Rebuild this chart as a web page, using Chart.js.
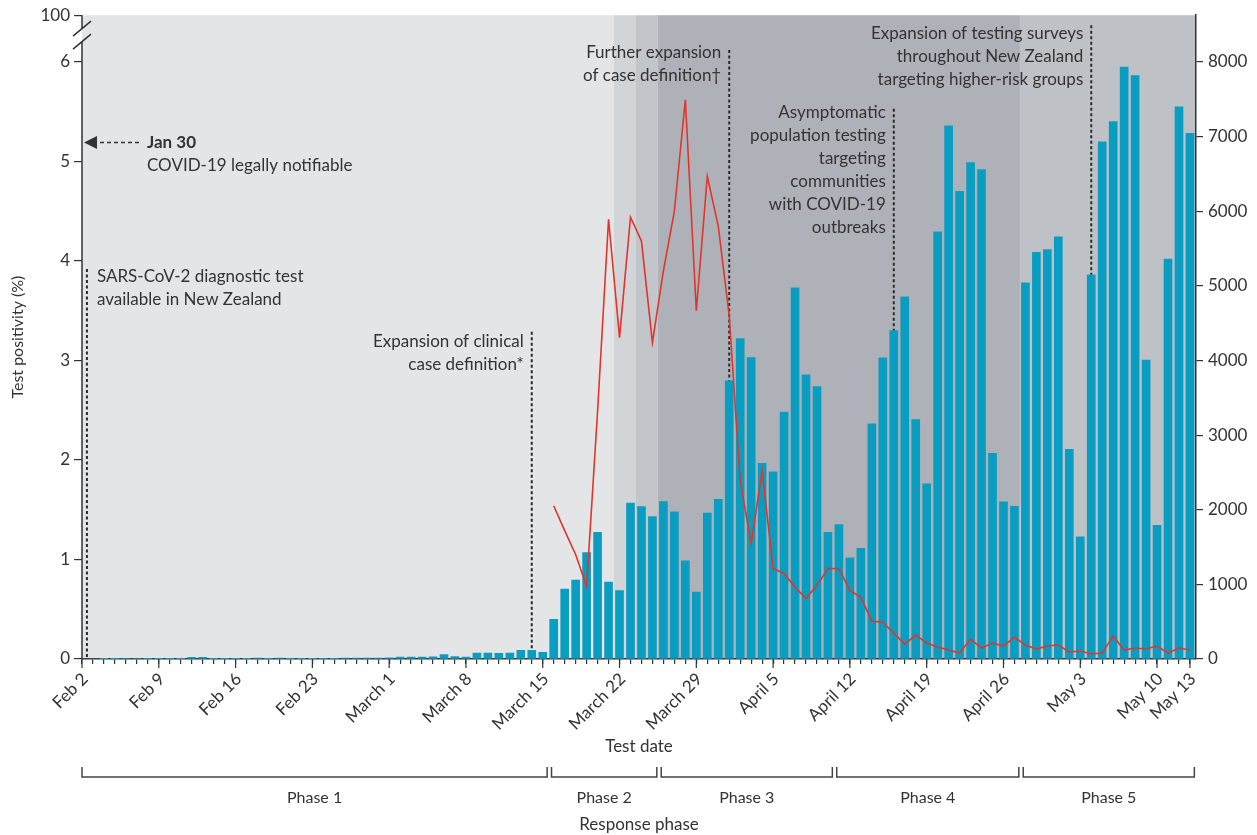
<!DOCTYPE html>
<html>
<head>
<meta charset="utf-8">
<title>SARS-CoV-2 testing in New Zealand</title>
<script src="https://cdn.jsdelivr.net/npm/chart.js@4.4.1/dist/chart.umd.min.js"></script>
<style>
  body { margin: 0; background: #fff; }
</style>
</head>
<body>
<canvas id="testing" width="1257" height="835"></canvas>
<script>
// tests per day (right axis), Feb 2 to May 13 2020
const testCounts = [
  0, 0, 3, 3, 10, 10, 3, 2, 3, 5,
  22, 22, 4, 3, 2, 3, 12, 3, 12, 3,
  2, 2, 3, 4, 12, 13, 13, 14, 15, 27,
  27, 27, 30, 60, 33, 25, 80, 80, 76, 80,
  116, 116, 90,
  533, 937, 1057, 1427, 1697, 1031, 916, 2089, 2044, 1907,
  2111, 1973, 1316, 898, 1956, 2138, 3729, 4293, 4040, 2622,
  2507, 3307, 4973, 3809, 3649, 1697, 1800, 1356, 1484, 3151,
  4036, 4401, 4853, 3209, 2347, 5725, 7144, 6267, 6653, 6557,
  2757, 2107, 2045, 5040, 5449, 5486, 5657, 2808, 1637, 5149,
  6931, 7200, 7930, 7816, 4007, 1792, 5360, 7400, 7045
];

// test positivity (%), left axis, starting March 16
const positivityFirst = 'March 16';
const positivity = [
  1.54, 1.29, 1.05, 0.73, 2.49, 4.42, 3.23, 4.44, 4.20, 3.18,
  3.90, 4.50, 5.62, 3.50, 4.85, 4.35, 3.45, 1.79, 1.16, 1.89,
  0.91, 0.86, 0.72, 0.61, 0.74, 0.91, 0.91, 0.69, 0.62, 0.38,
  0.37, 0.26, 0.15, 0.24, 0.16, 0.12, 0.09, 0.06, 0.20, 0.11,
  0.16, 0.13, 0.22, 0.14, 0.10, 0.13, 0.14, 0.07, 0.08, 0.05,
  0.06, 0.23, 0.09, 0.11, 0.10, 0.13, 0.06, 0.11, 0.09
];

const monthNames = ['Jan', 'Feb', 'March', 'April', 'May'];
const dayLabels = testCounts.map(function (_, i) {
  const d = new Date(2020, 1, 2 + i);
  return monthNames[d.getMonth()] + ' ' + d.getDate();
});
const dayAt = label => dayLabels.indexOf(label);

const dateTicks = ['Feb 2', 'Feb 9', 'Feb 16', 'Feb 23', 'March 1', 'March 8', 'March 15',
  'March 22', 'March 29', 'April 5', 'April 12', 'April 19', 'April 26', 'May 3', 'May 10', 'May 13'];
const positivityTicks = [0, 1, 2, 3, 4, 5, 6];
const countTicks = [0, 1000, 2000, 3000, 4000, 5000, 6000, 7000, 8000];
const breakLabel = '100';

const phaseNames = ['Phase 1', 'Phase 2', 'Phase 3', 'Phase 4', 'Phase 5'];
const phaseStarts = ['Feb 2', 'March 16', 'March 26', 'April 11', 'April 28'];

// alert level periods behind the bars
const alertStarts = ['Feb 2', 'March 22', 'March 24', 'March 26', 'April 28'];
const alertColours = ['#e4e5e7', '#d2d5d8', '#c2c6ca', '#aeb2b8', '#bec2c6'];

// the left axis jumps from 6 to 100 %
const positivityTop = 6.47;
const countTop = positivityTop / 6 * 8000;

const events = [
  { date: 'Feb 2', shift: 0.45, from: 3.92, text: 3.84, align: 'left',
    lines: ['SARS-CoV-2 diagnostic test', 'available in New Zealand'] },
  { date: 'March 14', from: 3.29, text: 3.19, align: 'right',
    lines: ['Expansion of clinical', 'case definition*'] },
  { date: 'April 1', from: 6.12, text: 6.09, align: 'right',
    lines: ['Further expansion', 'of case definition\u2020'] },
  { date: 'April 16', from: 5.53, text: 5.49, align: 'right',
    lines: ['Asymptomatic', 'population testing', 'targeting', 'communities', 'with COVID-19', 'outbreaks'] },
  { date: 'May 4', from: 6.37, text: 6.29, align: 'right',
    lines: ['Expansion of testing surveys', 'throughout New Zealand', 'targeting higher-risk groups'] }
];
const janNote = { at: 5.19, title: 'Jan 30', text: 'COVID-19 legally notifiable' };

const ink = '#333';
Chart.defaults.font.family = 'Lato';
Chart.defaults.color = ink;

const notes = {
  id: 'notes',
  beforeDraw(chart) {
    const { ctx, chartArea: a, scales: { x } } = chart;
    ctx.save();
    alertStarts.forEach(function (d, k) {
      const x0 = k === 0 ? a.left : x.getPixelForValue(dayAt(d) - 0.5);
      const x1 = k === alertStarts.length - 1 ? a.right : x.getPixelForValue(dayAt(alertStarts[k + 1]) - 0.5);
      ctx.fillStyle = alertColours[k];
      ctx.fillRect(x0, a.top, x1 - x0, a.bottom - a.top);
    });
    ctx.restore();
  },
  beforeDatasetsDraw(chart) {
    const { ctx, chartArea: a, scales: { x, y } } = chart;
    ctx.save();
    ctx.strokeStyle = '#2a2a2a';
    ctx.lineWidth = 2;
    ctx.setLineDash([3, 2.5]);
    events.forEach(function (ev) {
      const px = x.getPixelForValue(dayAt(ev.date) + (ev.shift || 0));
      ctx.beginPath();
      ctx.moveTo(px, y.getPixelForValue(ev.from));
      ctx.lineTo(px, a.bottom);
      ctx.stroke();
    });
    ctx.restore();
  },
  afterDraw(chart) {
    const { ctx, chartArea: a, scales: { x, y } } = chart;
    ctx.save();
    ctx.fillStyle = ink;
    ctx.strokeStyle = ink;

    // event captions
    ctx.font = '17px Lato';
    ctx.textBaseline = 'middle';
    events.forEach(function (ev) {
      const px = x.getPixelForValue(dayAt(ev.date) + (ev.shift || 0));
      ctx.textAlign = ev.align;
      const tx = ev.align === 'left' ? px + 10 : px - 8;
      ev.lines.forEach(function (line, k) {
        ctx.fillText(line, tx, y.getPixelForValue(ev.text) + k * 23);
      });
    });

    // Jan 30 arrow pointing off the left edge
    const jy = y.getPixelForValue(janNote.at);
    ctx.beginPath();
    ctx.moveTo(a.left + 2, jy);
    ctx.lineTo(a.left + 15, jy - 6.5);
    ctx.lineTo(a.left + 15, jy + 6.5);
    ctx.closePath();
    ctx.fill();
    ctx.lineWidth = 1.5;
    ctx.setLineDash([4, 3]);
    ctx.beginPath();
    ctx.moveTo(a.left + 18, jy);
    ctx.lineTo(a.left + 58, jy);
    ctx.stroke();
    ctx.setLineDash([]);
    ctx.textAlign = 'left';
    ctx.font = 'bold 17px Lato';
    ctx.fillText(janNote.title, a.left + 65, jy);
    ctx.font = '17px Lato';
    ctx.fillText(janNote.text, a.left + 65, jy + 23);

    // left axis with a break between 6 and 100
    const c = y.getPixelForValue(6.27);
    ctx.lineWidth = 1.5;
    ctx.beginPath();
    ctx.moveTo(a.left, a.top);
    ctx.lineTo(a.left, c - 6.5);
    ctx.moveTo(a.left, c + 6.5);
    ctx.lineTo(a.left, a.bottom);
    [-6.5, 6.5].forEach(function (off) {
      ctx.moveTo(a.left - 9, c + off + 7.5);
      ctx.lineTo(a.left + 9, c + off - 7.5);
    });
    ctx.stroke();

    // longer ticks under the labelled dates
    ctx.lineWidth = 1.2;
    ctx.beginPath();
    dateTicks.forEach(function (d) {
      const px = x.getPixelForValue(dayAt(d));
      ctx.moveTo(px, a.bottom);
      ctx.lineTo(px, a.bottom + 9);
    });
    ctx.stroke();

    // response phase brackets
    const by = x.bottom + 18;
    ctx.lineWidth = 1.5;
    ctx.strokeStyle = '#444';
    ctx.font = '16px Lato';
    ctx.textAlign = 'center';
    phaseStarts.forEach(function (d, k) {
      const start = dayAt(d);
      const end = k === phaseStarts.length - 1 ? dayLabels.length - 1 : dayAt(phaseStarts[k + 1]) - 1;
      const x0 = Math.max(a.left, x.getPixelForValue(start - 0.2));
      const x1 = x.getPixelForValue(end + 0.4);
      ctx.beginPath();
      ctx.moveTo(x0, by - 10);
      ctx.lineTo(x0, by);
      ctx.lineTo(x1, by);
      ctx.lineTo(x1, by - 10);
      ctx.stroke();
      ctx.fillText(phaseNames[k], (x0 + x1) / 2, by + 21);
    });
    ctx.font = '17px Lato';
    ctx.fillText('Response phase', (a.left + a.right) / 2, by + 48);
    ctx.restore();
  }
};

new Chart(document.getElementById('testing'), {
  type: 'bar',
  data: {
    datasets: [
      {
        type: 'line',
        label: 'Test positivity (%)',
        data: positivity.map((v, k) => ({ x: dayAt(positivityFirst) + k, y: v })),
        yAxisID: 'y',
        borderColor: '#e2342b',
        borderWidth: 1.6,
        pointRadius: 0,
        tension: 0,
        order: 0
      },
      {
        type: 'bar',
        label: 'Tests',
        data: testCounts.map((v, i) => ({ x: i, y: v })),
        yAxisID: 'y1',
        backgroundColor: '#0a9dc2',
        borderWidth: 0,
        barThickness: 8,
        order: 1
      }
    ]
  },
  options: {
    responsive: false,
    animation: false,
    layout: { padding: { top: 12, bottom: 76, left: 0, right: 0 } },
    plugins: {
      legend: { display: false },
      tooltip: { enabled: false }
    },
    scales: {
      x: {
        type: 'linear',
        min: 0,
        max: testCounts.length - 0.45,
        offset: false,
        afterBuildTicks: s => { s.ticks = dayLabels.map((_, i) => ({ value: i })); },
        afterFit: s => { s.height = 100; },
        grid: { offset: false, drawOnChartArea: false, tickLength: 5, color: ink, lineWidth: 1.2 },
        border: { color: ink, width: 1.5 },
        ticks: {
          autoSkip: false,
          minRotation: 45,
          maxRotation: 45,
          padding: 5,
          labelOffset: 3,
          font: { size: 17 },
          callback: v => dateTicks.includes(dayLabels[v]) ? dayLabels[v] : ''
        },
        title: { display: true, text: 'Test date', font: { size: 17 }, padding: { top: 0, bottom: 2 } }
      },
      y: {
        position: 'left',
        min: 0,
        max: positivityTop,
        afterBuildTicks: s => { s.ticks = positivityTicks.concat([positivityTop]).map(v => ({ value: v })); },
        afterFit: s => { s.width = 82; },
        grid: { drawOnChartArea: false, tickLength: 8, color: ink, lineWidth: 1.2 },
        border: { display: false },
        ticks: { padding: 4, font: { size: 17 }, callback: v => v === positivityTop ? breakLabel : v },
        title: { display: true, text: 'Test positivity (%)', font: { size: 16 }, padding: { top: 8, bottom: 0 } }
      },
      y1: {
        position: 'right',
        min: 0,
        max: countTop,
        afterBuildTicks: s => { s.ticks = countTicks.map(v => ({ value: v })); },
        afterFit: s => { s.width = 61; },
        grid: { drawOnChartArea: false, tickLength: 7, color: ink, lineWidth: 1.2 },
        border: { color: ink, width: 1.5 },
        ticks: { padding: 5, font: { size: 17 }, callback: v => String(v) }
      }
    }
  },
  plugins: [notes]
});
</script>
</body>
</html>
